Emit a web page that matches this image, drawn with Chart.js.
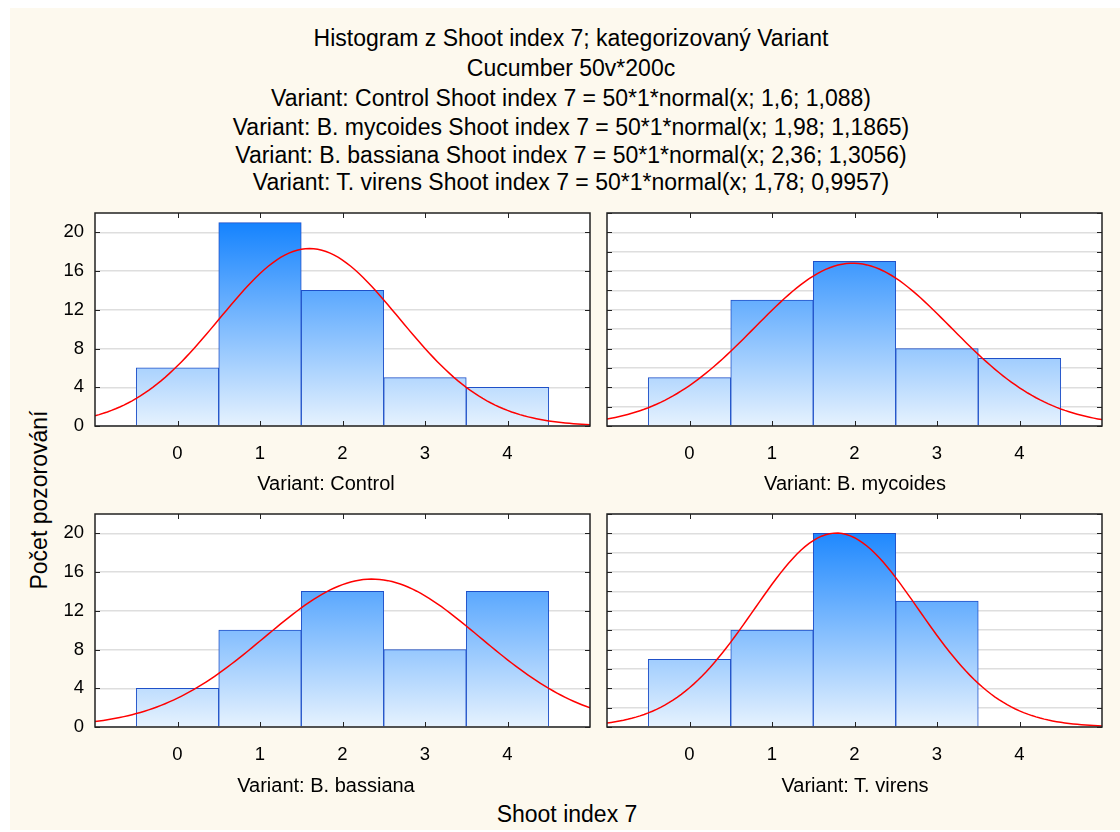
<!DOCTYPE html>
<html>
<head>
<meta charset="utf-8">
<script src="https://cdn.jsdelivr.net/npm/chart.js@4.4.1/dist/chart.umd.min.js"></script>
<style>
  body { margin: 0; background: #fff; font-family: "Liberation Sans", Arial, sans-serif; color: #000; }
  #sheet { position: absolute; left: 10px; top: 8px; width: 1110px; height: 822px; background: #fdf9ee; }
  .line { position: absolute; left: 71px; width: 1000px; height: 28px; line-height: 28px; text-align: center; font-size: 23px; white-space: nowrap; }
  .panel-label { position: absolute; width: 400px; height: 24px; line-height: 24px; text-align: center; font-size: 20px; white-space: nowrap; }
  #ylab { position: absolute; left: -111px; top: 486px; width: 300px; height: 28px; line-height: 28px; text-align: center; font-size: 23px; transform: rotate(-90deg); }
  #xlab { position: absolute; left: 367px; top: 800px; width: 400px; height: 28px; line-height: 28px; text-align: center; font-size: 23px; }
  canvas { position: absolute; }
</style>
</head>
<body>
<div id="sheet"></div>
<div id="titles"></div>
<div id="ylab">Počet pozorování</div>
<div id="xlab">Shoot index 7</div>
<canvas id="c0" width="565" height="303"></canvas>
<canvas id="c1" width="565" height="303"></canvas>
<canvas id="c2" width="565" height="303"></canvas>
<canvas id="c3" width="565" height="303"></canvas>
<script>
// četnosti po třídách (Shoot index 7 = 0..4), 50 rostlin na variantu
const variants = ['Control', 'B. mycoides', 'B. bassiana', 'T. virens'];
const bins = [0, 1, 2, 3, 4];
const controlCounts = [6, 21, 14, 5, 4];
const mycoidesCounts = [5, 13, 17, 8, 7];
const bassianaCounts = [4, 10, 14, 8, 14];
const virensCounts = [7, 10, 20, 13, 0];
// parametry proložené normální křivky
const fitN = 50;
const fitMeans = [1.6, 1.98, 2.36, 1.78];
const fitSds = [1.088, 1.1865, 1.3056, 0.9957];
// popisky os
const xTicks = [0, 1, 2, 3, 4];
const yTicks = [0, 4, 8, 12, 16, 20];

const allCounts = [controlCounts, mycoidesCounts, bassianaCounts, virensCounts];
const FONT = '"Liberation Sans", Arial, sans-serif';

// nadpis
const titleLines = [
  'Histogram z Shoot index 7; kategorizovaný Variant',
  'Cucumber 50v*200c'
];
const comma = v => String(v).replace('.', ',');
variants.forEach((v, i) => {
  titleLines.push('Variant: ' + v + ' Shoot index 7 = ' + fitN + '*1*normal(x; ' + comma(fitMeans[i]) + '; ' + comma(fitSds[i]) + ')');
});
const lineTops = [24, 54, 84, 113, 141, 168];
const titles = document.getElementById('titles');
titleLines.forEach((t, i) => {
  const d = document.createElement('div');
  d.className = 'line';
  d.style.top = lineTops[i] + 'px';
  d.textContent = t;
  titles.appendChild(d);
});

// normal(x; m, s) * N
function normalCurve(m, s) {
  const pts = [];
  for (let k = 0; k <= 120; k++) {
    const x = -1 + k * 0.05;
    const y = fitN / (s * Math.sqrt(2 * Math.PI)) * Math.exp(-0.5 * Math.pow((x - m) / s, 2));
    pts.push({ x: x, y: y });
  }
  return pts;
}

function barGradient(chart) {
  const { ctx, chartArea, scales } = chart;
  if (!chartArea) return '#7cbafe';
  const g = ctx.createLinearGradient(0, scales.y.getPixelForValue(0), 0, scales.y.getPixelForValue(21));
  g.addColorStop(0, '#e6f2fe');
  g.addColorStop(1, '#1583fe');
  return g;
}

// bílá plocha grafu, rámeček a vnitřní značky os
const framePlugin = {
  id: 'frame',
  beforeDraw(chart) {
    const { ctx, chartArea: a } = chart;
    ctx.save();
    ctx.fillStyle = '#fff';
    ctx.fillRect(a.left, a.top, a.right - a.left, a.bottom - a.top);
    ctx.restore();
  },
  afterDraw(chart) {
    const { ctx, chartArea: a, scales } = chart;
    ctx.save();
    ctx.strokeStyle = '#222';
    ctx.lineWidth = 1;
    ctx.beginPath();
    xTicks.forEach(v => {
      const px = Math.round(scales.x.getPixelForValue(v)) + 0.5;
      ctx.moveTo(px, a.top); ctx.lineTo(px, a.top + 5);
      ctx.moveTo(px, a.bottom); ctx.lineTo(px, a.bottom - 5);
    });
    scales.y.ticks.forEach(t => {
      const py = Math.round(scales.y.getPixelForValue(t.value)) + 0.5;
      ctx.moveTo(a.left, py); ctx.lineTo(a.left + 5, py);
      ctx.moveTo(a.right, py); ctx.lineTo(a.right - 5, py);
    });
    ctx.stroke();
    ctx.lineWidth = 1.5;
    ctx.strokeRect(a.left, a.top, a.right - a.left, a.bottom - a.top);
    ctx.restore();
  }
};

const panelPos = [[95, 213], [607, 213], [95, 514], [607, 514]];
// středy popisků panelů
const labelPos = [[326, 483], [855, 483], [326, 785], [855, 785]];

variants.forEach((name, i) => {
  const cv = document.getElementById('c' + i);
  cv.style.left = (panelPos[i][0] - 60) + 'px';
  cv.style.top = (panelPos[i][1] - 10) + 'px';
  const showY = i % 2 === 0;

  const lab = document.createElement('div');
  lab.className = 'panel-label';
  lab.style.left = (labelPos[i][0] - 200) + 'px';
  lab.style.top = (labelPos[i][1] - 12) + 'px';
  lab.textContent = 'Variant: ' + name;
  document.body.appendChild(lab);

  new Chart(cv.getContext('2d'), {
    type: 'bar',
    data: {
      datasets: [{
        type: 'bar',
        order: 2,
        data: bins.map((b, k) => ({ x: b, y: allCounts[i][k] })),
        backgroundColor: ctx => barGradient(ctx.chart),
        borderColor: '#1f50c8',
        borderWidth: 1,
        barPercentage: 1,
        categoryPercentage: 1
      }, {
        type: 'line',
        order: 1,
        data: normalCurve(fitMeans[i], fitSds[i]),
        borderColor: '#ff0000',
        borderWidth: 1.5,
        pointRadius: 0,
        tension: 0,
        fill: false
      }]
    },
    options: {
      responsive: false,
      animation: false,
      devicePixelRatio: 1,
      layout: { autoPadding: false, padding: { top: 10, right: 10, left: 0, bottom: 0 } },
      plugins: { legend: { display: false }, tooltip: { enabled: false } },
      scales: {
        x: {
          type: 'linear',
          min: -1,
          max: 5,
          offset: false,
          afterBuildTicks: s => { s.ticks = xTicks.map(v => ({ value: v })); },
          afterFit: s => { s.height = 80; s.paddingLeft = 0; s.paddingRight = 0; },
          grid: { display: false },
          border: { display: false },
          ticks: { color: '#000', padding: 9, maxRotation: 0, autoSkip: false, font: { family: FONT, size: 18.5 } }
        },
        y: {
          min: 0,
          max: 22,
          afterFit: s => { s.width = 60; s.paddingTop = 0; s.paddingBottom = 0; },
          grid: { color: '#dedede', lineWidth: 1.5, drawTicks: false },
          border: { display: false },
          ticks: {
            display: showY,
            stepSize: 2,
            padding: 11,
            color: '#000',
            font: { family: FONT, size: 18.5 },
            callback: v => yTicks.includes(v) ? v : ''
          }
        }
      }
    },
    plugins: [framePlugin]
  });
});
</script>
</body>
</html>
